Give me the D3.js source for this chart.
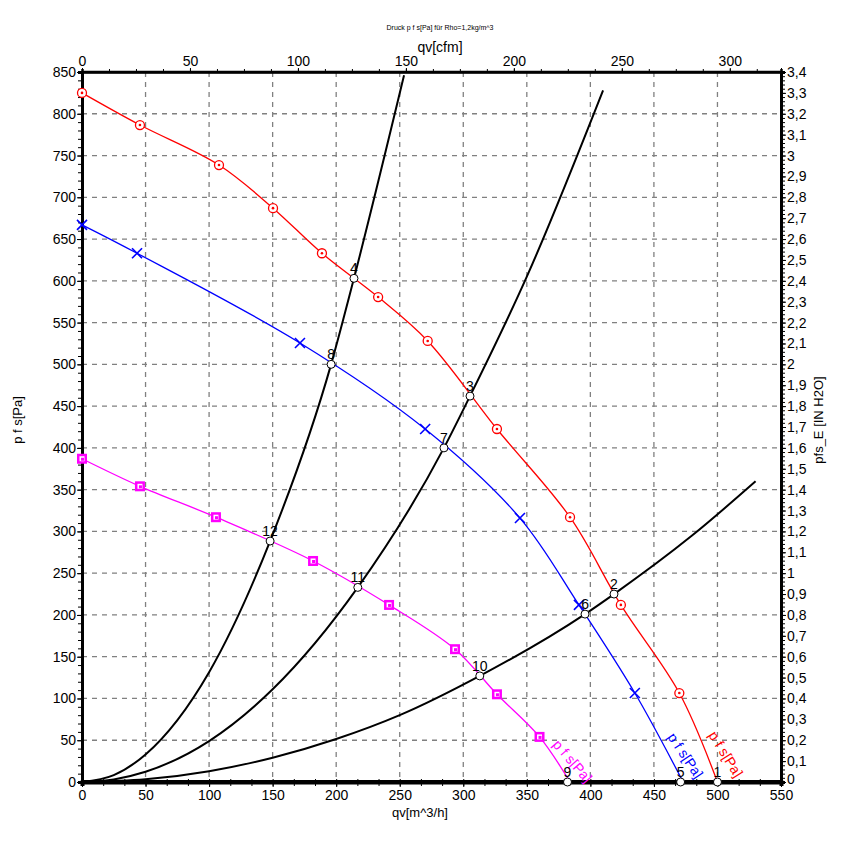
<!DOCTYPE html>
<html><head><meta charset="utf-8">
<script src="https://cdn.jsdelivr.net/npm/d3@7"></script>
<style>body{margin:0;background:#fff}svg{display:block}text{font-family:"Liberation Sans",Arial,sans-serif}</style>
</head><body><svg id="c" width="859" height="843"></svg>
<script>
// ---- data ----
const xTicks = [0,50,100,150,200,250,300,350,400,450,500,550];
const yTicks = [0,50,100,150,200,250,300,350,400,450,500,550,600,650,700,750,800,850];
const cfmTicks = [0,50,100,150,200,250,300];
const inH2OTicks = [0,0.1,0.2,0.3,0.4,0.5,0.6,0.7,0.8,0.9,1,1.1,1.2,1.3,1.4,1.5,1.6,1.7,1.8,1.9,2,2.1,2.2,2.3,2.4,2.5,2.6,2.7,2.8,2.9,3,3.1,3.2,3.3,3.4];

const redQ = [0,45.6,107.8,150.3,188.8,233,272,326.5,384,424,470,500];
const redP = [825,786.5,738.6,687,633,580.6,528,422.6,317,212,106.5,0];
const blueQ = [0,43.3,171.5,270,344.6,391,435,473];
const blueP = [667,633,525.6,422.6,316,212,106.5,0];
const magQ = [0,45.6,105.4,181.8,241.6,293.5,326.5,360,384];
const magP = [387,354,317,264.6,212,159,105,54,0];

const sysAQ = [0,25,50,100,148,196,214,253.4];
const sysAP = [0,8.2,33,131.5,288.5,500,603,846];
const sysBQ = [0,25,50,100,150,217,284.8,305.3,350,410];
const sysBP = [0,3.1,12.3,49,111,233,400,462,605,828];
const sysCQ = [0,50,100,150,200,250,313,395.8,418.6,480,530];
const sysCP = [0,3.2,12.9,29,51.4,80,127,201,225,295,360];

const opLabel = ["1","2","3","4","5","6","7","8","9","10","11","12"];
const opQ = [500,418.6,305.3,214,471,395.8,284.8,196,382,313,217,148];
const opP = [0,225,462,603,0,201,400,500,0,127,233,288.5];

// ---- layout ----
const L=82,R=781,T=72,B=782;
const svg=d3.select("#c");
const x=d3.scaleLinear().domain([0,550]).range([L,R]);
const y=d3.scaleLinear().domain([0,850]).range([B,T]);
const xc=d3.scaleLinear().domain([0,550/1.699]).range([L,R]);
const yr=d3.scaleLinear().domain([0,3.4]).range([B,T]);

// grid
const g=svg.append("g");
g.selectAll(".vg").data(xTicks.filter(d=>d>0&&d<550)).join("line")
 .attr("x1",d=>x(d)).attr("x2",d=>x(d)).attr("y1",T).attr("y2",B)
 .attr("stroke","#808080").attr("stroke-width",1.3).attr("stroke-dasharray","5,5");
g.selectAll(".hg").data(yTicks.filter(d=>d>0&&d<850)).join("line")
 .attr("x1",L).attr("x2",R).attr("y1",d=>y(d)).attr("y2",d=>y(d))
 .attr("stroke","#808080").attr("stroke-width",1.3).attr("stroke-dasharray","5,5");

// axes
const fs=14;
const ax=svg.append("g").attr("transform",`translate(0,${B})`)
 .call(d3.axisBottom(x).tickValues(d3.range(0,551,50/3)).tickSize(4).tickFormat(""));
ax.append("g").call(d3.axisBottom(x).tickValues(xTicks).tickSize(5).tickPadding(3).tickFormat(d3.format("d")));
ax.selectAll("text").attr("font-size",fs).attr("fill","#000").attr("dy","0.68em");
svg.append("g").attr("transform",`translate(0,${B})`)
 .call(d3.axisTop(x).tickValues(d3.range(0,551,50/3)).tickSize(3).tickFormat(""));

const ay=svg.append("g").attr("transform",`translate(${L},0)`)
 .call(d3.axisLeft(y).tickValues(d3.range(0,851,10)).tickSize(4).tickFormat(""));
ay.append("g").call(d3.axisLeft(y).tickValues(yTicks).tickSize(5).tickFormat(d3.format("d")).tickPadding(1));
ay.selectAll("text").attr("font-size",fs).attr("fill","#000");

const ar=svg.append("g").attr("transform",`translate(${R},0)`)
 .call(d3.axisRight(yr).tickValues(d3.range(0,3.401,0.02)).tickSize(4).tickFormat(""));
ar.append("g").call(d3.axisRight(yr).tickValues(inH2OTicks).tickSize(5).tickPadding(1)
 .tickFormat(d=>d3.format(".1~f")(d).replace(".",",")));
ar.selectAll("text").attr("font-size",fs).attr("fill","#000");
ar.selectAll(".tick").filter(d=>d===0).select("text").attr("dy","0.1em");

const at=svg.append("g").attr("transform",`translate(0,${T})`)
 .call(d3.axisTop(xc).tickValues(d3.range(0,323.7,12.5)).tickSize(3).tickFormat(""));
at.append("g").call(d3.axisTop(xc).tickValues(cfmTicks).tickSize(4).tickPadding(2).tickFormat(d3.format("d")));
at.selectAll("text").attr("font-size",fs).attr("fill","#000");
svg.selectAll(".domain").attr("stroke","#000");
svg.selectAll(".tick line").attr("stroke","#000");
ay.select(".domain").attr("stroke-width",3);
ar.select(".domain").attr("stroke-width",3);
ax.select(".domain").attr("stroke-width",4);
at.select(".domain").attr("stroke-width",2.5);

// frame lines
svg.append("line").attr("x1",L).attr("x2",R).attr("y1",T).attr("y2",T).attr("stroke","#000").attr("stroke-width",2.5);
svg.append("line").attr("x1",L).attr("x2",R).attr("y1",B).attr("y2",B).attr("stroke","#000").attr("stroke-width",4);

// titles
svg.append("text").attr("x",440).attr("y",30).attr("text-anchor","middle").attr("font-size",7).text("Druck p f s[Pa] für Rho=1,2kg/m^3");
svg.append("text").attr("x",440).attr("y",52).attr("text-anchor","middle").attr("font-size",14).text("qv[cfm]");
svg.append("text").attr("x",420).attr("y",817).attr("text-anchor","middle").attr("font-size",13).text("qv[m^3/h]");
svg.append("text").attr("transform","translate(22,420) rotate(-90)").attr("text-anchor","middle").attr("font-size",13).text("p f s[Pa]");
svg.append("text").attr("transform","translate(823,420) rotate(-90)").attr("text-anchor","middle").attr("font-size",13).text("pfs_E [IN H2O]");

// system curves
const line=d3.line().x(d=>x(d[0])).y(d=>y(d[1])).curve(d3.curveMonotoneX);
const sline=d3.line().x(d=>x(d[0])).y(d=>y(d[1])).curve(d3.curveCatmullRom.alpha(0.5));
[[sysAQ,sysAP],[sysBQ,sysBP],[sysCQ,sysCP]].forEach(([q,p])=>{
  svg.append("path").attr("d",line(q.map((v,i)=>[v,p[i]]))).attr("fill","none").attr("stroke","#000").attr("stroke-width",2);
});

// fan curves
const series=[
 {q:redQ,p:redP,c:"#ff0000",m:"circle"},
 {q:blueQ,p:blueP,c:"#0000ff",m:"cross"},
 {q:magQ,p:magP,c:"#ff00ff",m:"square"}];
series.forEach(s=>{
  const pts=s.q.map((v,i)=>[v,s.p[i]]);
  svg.append("path").attr("d",sline(pts)).attr("fill","none").attr("stroke",s.c).attr("stroke-width",1.3);
  const mk=svg.append("g").selectAll("g").data(pts.slice(0,-1)).join("g")
    .attr("transform",d=>`translate(${x(d[0])},${y(d[1])})`);
  if(s.m==="circle"){
    mk.append("circle").attr("r",4.5).attr("fill","#fff").attr("stroke",s.c).attr("stroke-width",1.3);
    mk.append("circle").attr("r",1.3).attr("fill",s.c);
  } else if(s.m==="cross"){
    mk.append("path").attr("d","M-5,-5L5,5M-5,5L5,-5").attr("stroke",s.c).attr("stroke-width",1.6);
  } else {
    mk.append("rect").attr("x",-5).attr("y",-5).attr("width",10).attr("height",10).attr("fill",s.c);
    mk.append("rect").attr("x",-2.5).attr("y",-2.5).attr("width",5).attr("height",5).attr("fill","#fff");
    mk.append("rect").attr("x",-1).attr("y",-1).attr("width",3).attr("height",3).attr("fill",s.c);
  }
});

// curve labels
[["#ff0000",708,735,58],["#0000ff",667,737,56],["#ff00ff",552,745,49]].forEach(([c,px,py,a])=>{
  svg.append("text").attr("transform",`translate(${px},${py}) rotate(${a})`).attr("font-size",14).attr("fill",c).text("p f s[Pa]");
});

// operating points
const op=svg.append("g").selectAll("g").data(opQ.map((v,i)=>({q:v,p:opP[i],l:opLabel[i]}))).join("g")
  .attr("transform",d=>`translate(${x(d.q)},${y(d.p)})`);
op.append("text").attr("y",-5).attr("text-anchor","middle").attr("font-size",14).text(d=>d.l);
op.append("circle").attr("r",4).attr("fill","#fff").attr("stroke","#000").attr("stroke-width",1);
</script></body></html>
